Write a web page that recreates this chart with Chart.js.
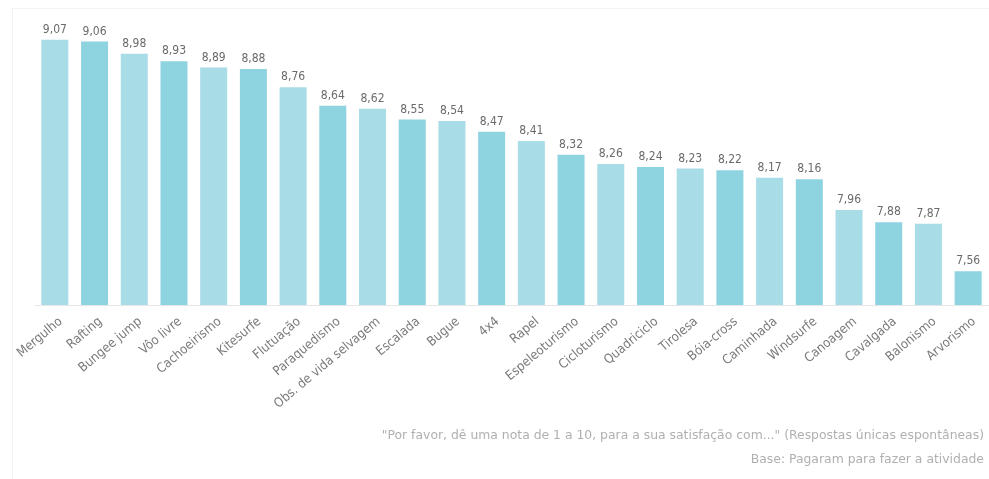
<!DOCTYPE html>
<html>
<head>
<meta charset="utf-8">
<script src="https://cdn.jsdelivr.net/npm/chart.js@4/dist/chart.umd.min.js"></script>
<style>
  html, body { margin: 0; padding: 0; background: #ffffff; }
  #wrap { position: relative; width: 989px; height: 479px; overflow: hidden; }
  #frame { position: absolute; left: 12px; top: 8px; width: 990px; height: 480px; border-left: 1px solid #f3f3f3; border-top: 1px solid #f3f3f3; }
  canvas { position: absolute; left: 0; top: 0; }
  .note { position: absolute; right: 5px; font-family: "DejaVu Sans", sans-serif; font-size: 12.4px; color: #b0b0b0; white-space: nowrap; }
</style>
</head>
<body>
<div id="wrap">
  <div id="frame"></div>
  <canvas id="c" width="989" height="479"></canvas>
  <div class="note" style="top:427px;">"Por favor, dê uma nota de 1 a 10, para a sua satisfação com..." (Respostas únicas espontâneas)</div>
  <div class="note" style="top:451px;">Base: Pagaram para fazer a atividade</div>
</div>
<script>
const categories = ["Mergulho", "Rafting", "Bungee jump", "Vôo livre", "Cachoeirismo", "Kitesurfe", "Flutuação", "Paraquedismo", "Obs. de vida selvagem", "Escalada", "Bugue", "4x4", "Rapel", "Espeleoturismo", "Cicloturismo", "Quadriciclo", "Tirolesa", "Bóia-cross", "Caminhada", "Windsurfe", "Canoagem", "Cavalgada", "Balonismo", "Arvorismo"];
const satisfaction = [9.07, 9.06, 8.98, 8.93, 8.89, 8.88, 8.76, 8.64, 8.62, 8.55, 8.54, 8.47, 8.41, 8.32, 8.26, 8.24, 8.23, 8.22, 8.17, 8.16, 7.96, 7.88, 7.87, 7.56];
const colorLight = "#a8dce6";
const colorDark = "#8ed3e0";
const labelFont = "'DejaVu Sans Condensed', 'Liberation Sans Narrow', sans-serif";

const valueLabels = {
  id: "valueLabels",
  afterDatasetsDraw(chart) {
    const ctx = chart.ctx;
    const meta = chart.getDatasetMeta(0);
    ctx.save();
    ctx.font = "12px " + labelFont;
    ctx.fillStyle = "#6a6a6a";
    ctx.textAlign = "center";
    ctx.textBaseline = "bottom";
    meta.data.forEach((bar, i) => {
      const txt = satisfaction[i].toFixed(2).replace(".", ",");
      ctx.fillText(txt, bar.x, bar.y - 4);
    });
    ctx.restore();
  }
};

new Chart(document.getElementById("c"), {
  type: "bar",
  data: {
    labels: categories,
    datasets: [{
      data: satisfaction,
      backgroundColor: categories.map((_, i) => i % 2 === 0 ? colorLight : colorDark),
      borderWidth: 0,
      categoryPercentage: 1,
      barPercentage: 0.68
    }]
  },
  options: {
    responsive: false,
    animation: false,
    layout: { padding: { left: 35, right: 1, top: 0, bottom: 0 } },
    plugins: { legend: { display: false }, tooltip: { enabled: false } },
    scales: {
      y: { display: false, min: 7.34, max: 9.33 },
      x: {
        grid: { display: false },
        border: { display: true, color: "#e6e6e6", width: 1 },
        afterFit(scale) { scale.height = 174; },
        ticks: {
          minRotation: 40,
          maxRotation: 40,
          autoSkip: false,
          padding: 1,
          labelOffset: 6,
          color: "#7a7a7a",
          font: { family: labelFont, size: 13 }
        }
      }
    }
  },
  plugins: [valueLabels]
});
</script>
</body>
</html>
